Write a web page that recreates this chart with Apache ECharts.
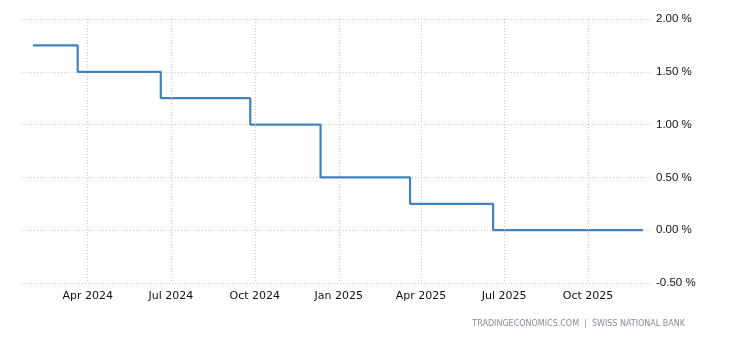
<!DOCTYPE html>
<html>
<head>
<meta charset="utf-8">
<script src="https://cdn.jsdelivr.net/npm/echarts@6/dist/echarts.min.js"></script>
<style>
html,body{margin:0;padding:0;background:#fff;}
#chart{width:730px;height:340px;}
</style>
</head>
<body>
<div id="chart"></div>
<script>
// Swiss National Bank policy rate (%), change dates
const dates = ['2024-02-01','2024-03-21','2024-06-20','2024-09-26','2024-12-12','2025-03-20','2025-06-19','2025-11-30'];
const rates = [1.75, 1.50, 1.25, 1.00, 0.50, 0.25, 0.00, 0.00];
const tickDates = ['2024-04-01','2024-07-01','2024-10-01','2025-01-01','2025-04-01','2025-07-01','2025-10-01'];
const tickLabels = ['Apr 2024','Jul 2024','Oct 2024','Jan 2025','Apr 2025','Jul 2025','Oct 2025'];

const ts = d => new Date(d + 'T00:00:00Z').getTime();
const tickTs = tickDates.map(ts);
const labelMap = {};
tickTs.forEach((t, i) => { labelMap[t] = tickLabels[i]; });

const chart = echarts.init(document.getElementById('chart'));
chart.setOption({
  animation: false,
  backgroundColor: '#fff',
  grid: { left: 22, right: 78, top: 19, bottom: 57, containLabel: false },
  xAxis: {
    type: 'value',
    min: ts('2024-01-20'),
    max: ts('2025-12-10'),
    axisLine: { show: false },
    axisTick: { show: false },
    splitLine: { show: false },
    axisLabel: {
      customValues: tickTs,
      formatter: v => labelMap[v] || '',
      color: '#111',
      fontFamily: 'DejaVu Sans',
      fontSize: 11,
      margin: 8,
      hideOverlap: false
    }
  },
  yAxis: {
    type: 'value',
    position: 'right',
    min: -0.5,
    max: 2,
    interval: 0.5,
    axisLine: { show: false },
    axisTick: { show: false },
    splitLine: { show: true, lineStyle: { color: '#c8c8c8', type: [1, 2], width: 1 } },
    axisLabel: {
      formatter: v => v.toFixed(2) + ' %',
      color: '#111',
      fontFamily: 'Liberation Sans',
      fontSize: 11.5,
      margin: 4
    }
  },
  series: [
    {
      type: 'line',
      step: 'end',
      data: dates.map((d, i) => [ts(d), rates[i]]),
      symbol: 'none',
      lineStyle: { color: '#4682b9', width: 2.2 },
      markLine: {
        silent: true,
        symbol: 'none',
        label: { show: false },
        lineStyle: { color: '#c8c8c8', type: [1, 2], width: 1 },
        data: tickTs.map(t => [{ coord: [t, 2] }, { coord: [t, -0.5] }])
      },
      z: 3
    }
  ],
  graphic: [
    {
      type: 'text',
      right: 45,
      top: 320,
      style: {
        text: 'TRADINGECONOMICS.COM  |  SWISS NATIONAL BANK',
        fill: '#8a8a9a',
        font: '8px "DejaVu Sans"'
      }
    }
  ]
});
</script>
</body>
</html>
